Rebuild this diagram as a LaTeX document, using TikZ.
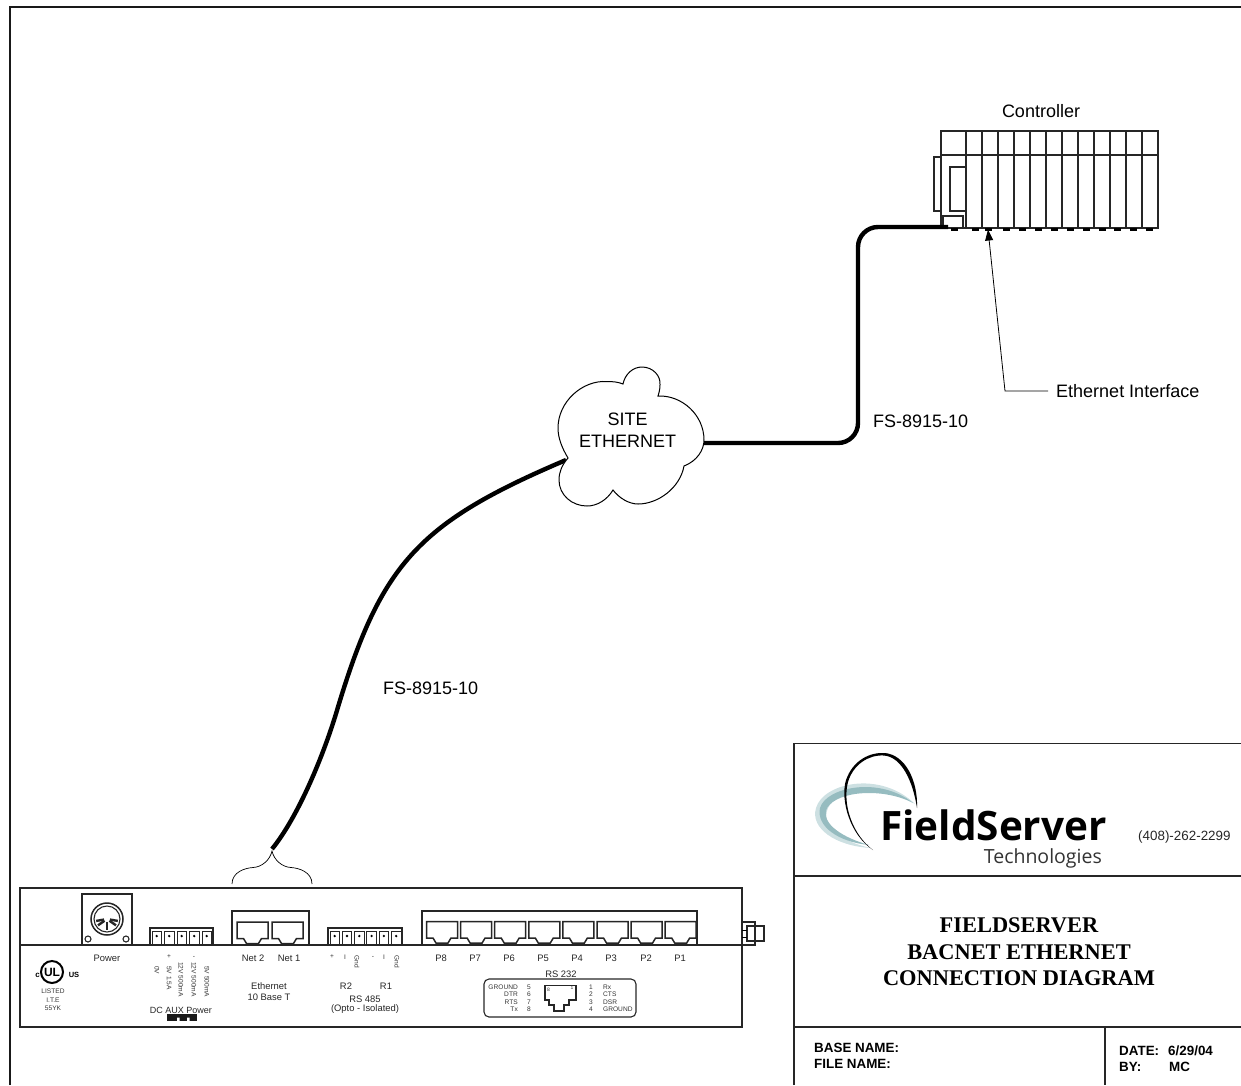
\documentclass[tikz,border=0pt]{standalone}
\usepackage{fontspec}
\setmainfont{Liberation Sans}
\newfontfamily\serifb{Liberation Serif}[BoldFont={Liberation Serif Bold}]
\newfontfamily\logofont{Open Sans}
\usetikzlibrary{arrows.meta}
\tikzset{
  dev/.style={line width=1.1pt,draw=black!85},
  devthick/.style={line width=1.5pt,draw=black!85},
  cable/.style={line width=4.4pt,draw=black},
  cell/.style={line width=1pt,draw=black!85},
  tiny/.style={font=\fontsize{6.6}{8}\selectfont,text=black!80,inner sep=0pt},
  lab/.style={font=\fontsize{9.4}{10}\selectfont,text=black!85,inner sep=0pt},
  big/.style={font=\fontsize{18}{22}\selectfont,inner sep=0pt},
  titleb/.style={font=\serifb\bfseries\fontsize{22.4}{24}\selectfont,inner sep=0pt},
  small/.style={font=\bfseries\fontsize{13.4}{15}\selectfont,inner sep=0pt,anchor=west},
  frame/.style={line width=2pt,draw=black!90},
  rule/.style={line width=1.4pt,draw=black!85},
}
\newcommand{\rjack}[2]{% left x, top y
  \draw[devthick,line join=miter] (#1,#2) -- ++(31,0) -- ++(0,16.5) -- ++(-6.5,0) -- ++(-3,5) -- ++(-12,0) -- ++(-3,-5) -- ++(-6.5,0) -- cycle;
}
\begin{document}
\begin{tikzpicture}[x=1pt,y=-1pt]
\useasboundingbox (0,0) rectangle (1241,1085);
% sheet frame
\draw[frame] (9.5,1085) -- (9.5,7) -- (1241,7);
% title block
\draw[rule] (794,1085) -- (794,743.5) -- (1241,743.5);
\draw[rule] (794,876) -- (1241,876);
\draw[rule] (794,1027) -- (1241,1027);
\draw[rule] (1105,1027) -- (1105,1085);
% logo
\fill[color={rgb,255:red,205;green,224;blue,226}] (871,848) .. controls (835,846) and (810,828) .. (816,808) .. controls (823,783) and (880,770) .. (915,804) .. controls (885,785) and (838,787) .. (828,808) .. controls (820,826) and (842,842) .. (871,848) -- cycle;
\fill[color={rgb,255:red,150;green,188;blue,192}] (869,845) .. controls (838,842) and (816,826) .. (820,808) .. controls (826,787) and (880,776) .. (913,803) .. controls (885,788) and (838,790) .. (827,808) .. controls (820,824) and (844,838) .. (869,845) -- cycle;
\fill[black] (873,850) .. controls (850,835) and (840,800) .. (846,780) .. controls (853,760) and (870,752) .. (885,753) .. controls (905,755) and (918,780) .. (917,808) .. controls (913,782) and (902,757) .. (884,755.5) .. controls (868,754.5) and (853,765) .. (848,782) .. controls (842,805) and (853,835) .. (873,850) -- cycle;
\node[anchor=base west,inner sep=0pt,font=\logofont\bfseries\fontsize{40.5}{42}\selectfont] (logoa) at (880,840) {FieldServer};
\node[anchor=base east,inner sep=0pt,font=\logofont\fontsize{19.5}{21}\selectfont,text=black!80] (logob) at (1102,863) {Technologies};
\node[anchor=west,inner sep=0pt,font=\fontsize{13.4}{15}\selectfont,text=black!85] (phone) at (1138,837) {(408)-262-2299};
\node[titleb] (t1) at (1019,925) {FIELDSERVER};
\node[titleb] (t2) at (1019,952) {BACNET ETHERNET};
\node[titleb] (t3) at (1019,978) {CONNECTION DIAGRAM};
\node[small] (b1) at (814,1048) {BASE NAME:};
\node[small] (b2) at (814,1064) {FILE NAME:};
\node[small] (d1) at (1119,1051) {DATE:};
\node[small] (d2) at (1168,1051) {6/29/04};
\node[small] (d3) at (1119,1067) {BY:};
\node[small] (d4) at (1169,1067) {MC};
% controller
\draw[dev] (941,131) rectangle (1158,228);
\draw[dev] (941,155) -- (1158,155);
\foreach \x in {966,982,998,1014,1030,1046,1062,1078,1094,1110,1126,1142}
  \draw[dev] (\x,131) -- (\x,228);
\draw[dev] (941,157) -- (934,157) -- (934,211) -- (941,211);
\draw[dev] (950,167) rectangle (966,211);
\draw[dev] (943,216) rectangle (963,228);
\foreach \x in {954,975,988,1006,1022,1038,1054,1070,1086,1102,1117,1133,1149}
  \fill[black] (\x-3.5,228) rectangle (\x+3.5,230.5);
\node[big] (ctl) at (1041,111) {Controller};
\coordinate (ifport) at (988,229.5);
\coordinate (ifknee) at (1005,391);
\node[big,anchor=west] (iflab) at (1056,391) {Ethernet Interface};
\draw[line width=0.8pt,-{Triangle[length=11pt,width=8pt]}] (iflab.west) ++(-8,0) -- (ifknee) -- (ifport);
\node[big,anchor=west] (fsa) at (873,421) {FS-8915-10};
\node[big,anchor=west] (fsb) at (383,688) {FS-8915-10};
% cloud
\coordinate (ctlport) at (948,227);
\coordinate (cloudw) at (566,460);
\coordinate (cloude) at (704,443);
\draw[cable,rounded corners=20pt] (cloude) -- (858,443) -- (858,227) -- (ctlport);
\coordinate (bracetop) at (272,849);
\draw[cable] (bracetop) .. controls (298,817) and (324,755) .. (338,707) .. controls (381.5,563) and (419,522.4) .. (cloudw);
\draw[line width=1pt,fill=white] (568,458) .. controls (562,448) and (558,438) .. (558,428)
  .. controls (558,402) and (582,380) .. (607,381.5) .. controls (613,381.5) and (618,382) .. (623,384)
  .. controls (625,374) and (633,367) .. (642,367) .. controls (653,367) and (661,376) .. (660,385) .. controls (660,389) and (659,393) .. (658,396)
  .. controls (682,395) and (704,415) .. (704,440) .. controls (704,450) and (697,461) .. (684,466)
  .. controls (680,488) and (658,504) .. (638,504) .. controls (629,504) and (619,498) .. (613,490)
  .. controls (607,500) and (597,506) .. (587,506) .. controls (572,506) and (559,495) .. (559,480) .. controls (559,472) and (562,465) .. (568,458) -- cycle;
\node[big,align=center] (cloud) at (627.5,430) {SITE\\ETHERNET};
% brace
\draw[line width=0.7pt] (232,884) .. controls (232,872) and (245,868) .. (253,867.5) .. controls (262,867) and (270,860) .. (272,851)
  .. controls (274,860) and (282,867) .. (291,867.5) .. controls (299,868) and (312,872) .. (312,884);
% device
\draw[dev] (20,888) rectangle (742,1027);
\draw[dev] (20,945) -- (742,945);
\draw[dev] (82,894) rectangle (132,945);
\draw[devthick] (107,919) circle (16);
\draw[dev] (107,919) circle (13);
\foreach \a in {-35,-90,-145,-10,-170}
  \draw[line width=2.4pt,draw=black!85] (107,919) ++(\a+180:3) -- ++(\a+180:8);
\draw[dev] (88,939) circle (3);
\draw[dev] (126,939) circle (3);
% terminal blocks
\draw[devthick] (150,928) rectangle (213,945);
\foreach \x in {150.5,163,175.5,188,200.5}{
  \draw[cell] (\x+1.5,931) rectangle (\x+11,945);
  \fill (\x+6.2,936) circle (1.3);
}
\draw[devthick] (328,928) rectangle (402,945);
\foreach \x in {328.5,340.8,353.1,365.4,377.7,390}{
  \draw[cell] (\x+1.5,931) rectangle (\x+11,945);
  \fill (\x+6.2,936) circle (1.3);
}
% jack groups
\draw[line width=1.6pt,draw=black!85] (232,945) -- (232,911) -- (309,911) -- (309,945);
\rjack{237}{922}\rjack{272}{922}
\draw[line width=1.6pt,draw=black!85] (422,945) -- (422,911) -- (697,911) -- (697,945);
\foreach \x in {426.5,460.6,494.7,528.8,562.9,597,631.1,665.2}{\rjack{\x}{921.5}}
% right plug
\draw[dev] (742,922) -- (755,922) -- (755,945) -- (742,945);
\draw[devthick] (747,926) rectangle (764,941);
\draw[line width=0.8pt] (742,930) -- (747,930) (742,937) -- (747,937);
% device labels
\node[lab] (pw) at (107,958) {Power};
\node[lab] at (253,958) {Net 2};
\node[lab] at (289,958) {Net 1};
\node[lab] at (269,986) {Ethernet};
\node[lab] at (269,997) {10 Base T};
\node[lab] at (346,986) {R2};
\node[lab] at (386,986) {R1};
\node[lab] at (365,999) {RS 485};
\node[lab] at (365,1009) {(Opto - Isolated)};
\node[tiny] at (332,957) {+};
\node[tiny] at (345,957) {I};
\node[tiny,rotate=-90,anchor=west] at (357,955) {Gnd};
\node[tiny] at (373,957) {-};
\node[tiny] at (384,957) {I};
\node[tiny,rotate=-90,anchor=west] at (397,955) {Gnd};
\node[tiny] at (169,957) {+};
\node[tiny] at (194,957) {-};
\node[tiny,rotate=-90,anchor=west] at (157,966) {0V};
\node[tiny,rotate=-90,anchor=west] at (169,966) {5V 1.5A};
\node[tiny,rotate=-90,anchor=west] at (181,962) {12V 500mA};
\node[tiny,rotate=-90,anchor=west] at (194,962) {12V 500mA};
\node[tiny,rotate=-90,anchor=west] at (207,966) {5V 500mA};
\node[lab,font=\fontsize{9}{10}\selectfont] at (181,1010) {DC AUX Power};
\fill[black!90] (166.5,1013.5) rectangle (196.5,1021);
\fill[white] (177,1017.5) rectangle (179.5,1021) (187,1017.5) rectangle (189.5,1021);
\foreach \x/\t in {441/P8,475/P7,509/P6,543/P5,577/P4,611/P3,646/P2,680/P1}
  \node[lab] at (\x,958) {\t};
\node[lab] at (561,974.5) {RS 232};
\draw[dev,rounded corners=5pt] (484,979) rectangle (636,1017);
\draw[devthick,line join=miter] (545,985.5) -- (576,985.5) -- (576,1000) -- (569,1000) -- (569,1005) -- (564,1005) -- (564,1011) -- (554,1011) -- (554,1005) -- (549,1005) -- (549,1000) -- (545,1000) -- cycle;
\foreach \y/\a/\b/\c/\d in {987/GROUND/5/1/Rx,994.5/DTR/6/2/CTS,1002/RTS/7/3/DSR,1009.5/Tx/8/4/GROUND}{
  \node[tiny,anchor=east] at (518,\y) {\a};
  \node[tiny] at (529,\y) {\b};
  \node[tiny] at (591,\y) {\c};
  \node[tiny,anchor=west] at (603,\y) {\d};
}
\node[tiny,font=\fontsize{5}{6}\selectfont] at (548.5,990) {8};
\node[tiny,font=\fontsize{5}{6}\selectfont] at (572,988) {1};
% UL mark
\draw[line width=2pt] (52,972) circle (11);
\node[inner sep=0pt,font=\bfseries\fontsize{12}{12}\selectfont] at (52,972) {UL};
\node[inner sep=0pt,font=\bfseries\fontsize{8}{8}\selectfont] at (37.5,975) {c};
\node[inner sep=0pt,font=\bfseries\fontsize{7.5}{8}\selectfont] at (74,975) {US};
\node[tiny] at (53,991) {LISTED};
\node[tiny] at (53,1000) {I.T.E};
\node[tiny] at (53,1008.5) {55YK};
\end{tikzpicture}
\end{document}
